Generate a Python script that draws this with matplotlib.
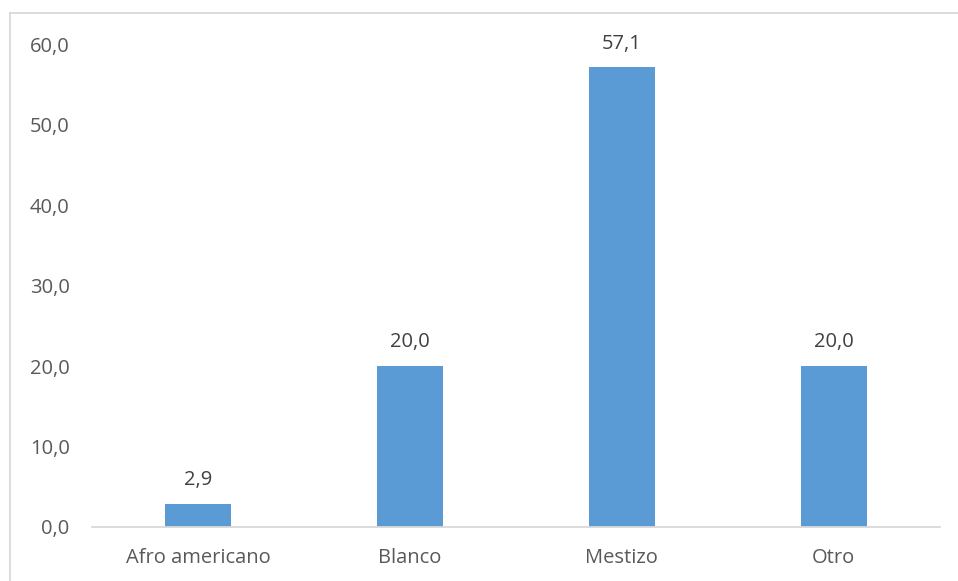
import matplotlib
matplotlib.use("Agg")
import matplotlib.pyplot as plt
from matplotlib.lines import Line2D

# Distribution by ethnic group (%)
categories = ["Afro americano", "Blanco", "Mestizo", "Otro"]
values = [2.9, 20.0, 57.1, 20.0]
yticks = [0, 10, 20, 30, 40, 50, 60]

BAR = "#5B9BD5"
TEXT = "#595959"
LABEL = "#404040"
AXIS = "#D9D9D9"

plt.rcParams["font.family"] = ["Open Sans", "DejaVu Sans"]

fig = plt.figure(figsize=(9.58, 5.81), dpi=100)
ax = fig.add_axes([0.096, 0.093, 0.885, 0.831])

x = range(len(categories))
ax.bar(x, values, width=0.31, color=BAR, zorder=2)

for xi, v in zip(x, values):
    ax.annotate(f"{v:.1f}".replace(".", ","), (xi, v),
                xytext=(0, 10), textcoords="offset points",
                ha="center", va="bottom", fontsize=14.5, color=LABEL)

ax.set_xlim(-0.5, len(categories) - 0.5)
ax.set_ylim(0, 60)
ax.set_yticks(yticks)
ax.set_yticklabels([f"{t:.1f}".replace(".", ",") for t in yticks])
ax.set_xticks(list(x))
ax.set_xticklabels(categories)
ax.tick_params(axis="both", length=0, labelsize=14.5, colors=TEXT)
ax.tick_params(axis="y", pad=16)
ax.tick_params(axis="x", pad=15)

for side in ["top", "right", "left"]:
    ax.spines[side].set_visible(False)
ax.spines["bottom"].set_color(AXIS)
ax.spines["bottom"].set_linewidth(1.3)

# chart area frame: left and top edges
x0, y0 = 9.5 / 958, 1 - 12.5 / 581
fig.add_artist(Line2D([x0, x0], [0, y0], transform=fig.transFigure,
                      color=AXIS, lw=1.3))
fig.add_artist(Line2D([x0, 1], [y0, y0], transform=fig.transFigure,
                      color=AXIS, lw=1.3))

fig.savefig("out.png", dpi=100, facecolor="white")
